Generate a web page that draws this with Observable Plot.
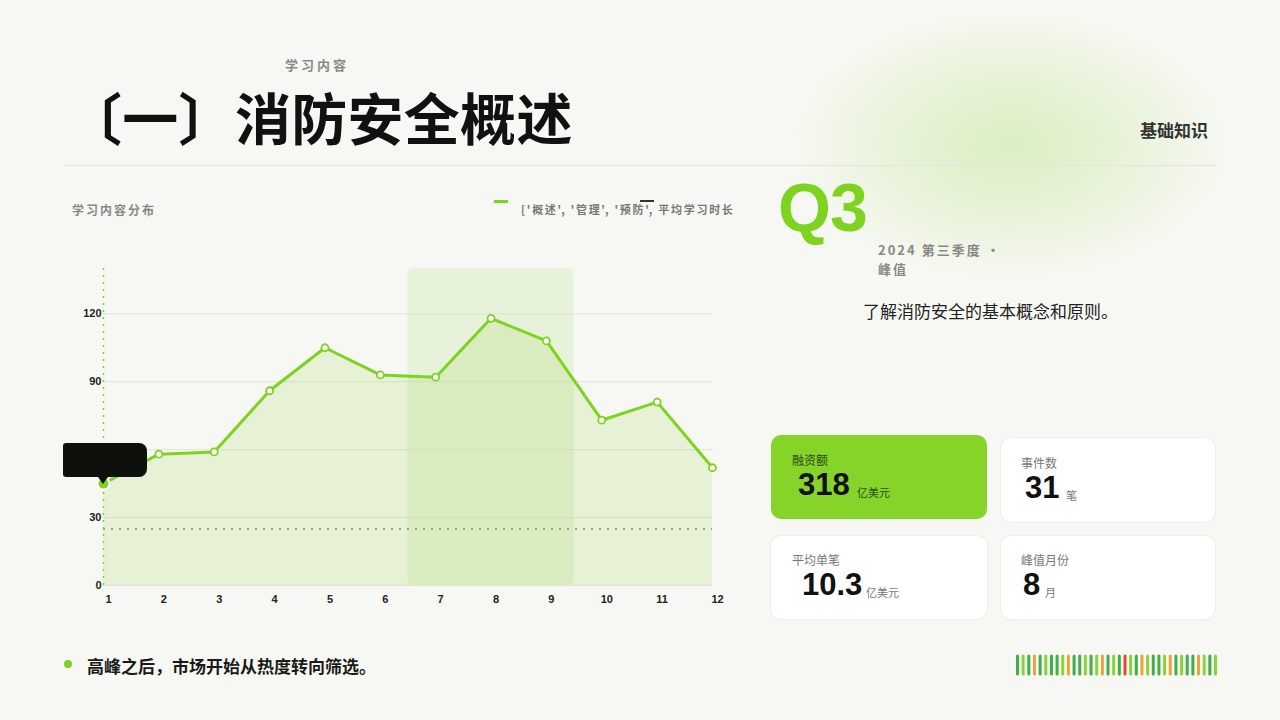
<!DOCTYPE html>
<html><head><meta charset="utf-8">
<script src="https://cdn.jsdelivr.net/npm/d3@7"></script>
<script src="https://cdn.jsdelivr.net/npm/@observablehq/plot@0.6"></script>
<style>
html,body{margin:0;padding:0}
body{width:1280px;height:720px;overflow:hidden;background:#f7f8f3;font-family:"Noto Sans CJK SC","Liberation Sans",sans-serif;position:relative;color:#1a1a1a}
.abs{position:absolute;white-space:nowrap}
.blob{position:absolute;left:790px;top:10px;width:440px;height:270px;border-radius:50%;background:radial-gradient(ellipse at center, rgba(150,215,80,0.30) 0%, rgba(170,222,110,0.18) 40%, rgba(247,248,243,0) 72%)}
.card{position:absolute;border-radius:10px;background:#fff;box-shadow:0 0 0 1px #eeefea}
.card .lab{position:absolute;left:21px;top:16px;font-size:12px;color:#777}
.card .val{position:absolute;font-family:"Liberation Sans",sans-serif;font-weight:bold;font-size:31px;color:#111}
.card .unit{position:absolute;font-size:11px;color:#777}
</style></head><body>
<div class="blob"></div>
<div class="abs" style="left:285px;top:55px;font-size:13px;font-weight:bold;color:#8a8a8a;letter-spacing:3px">学习内容</div>
<div class="abs" style="left:66px;top:78px;font-size:56px;font-weight:bold;line-height:76px;color:#111;letter-spacing:0.3px">〔一〕消防安全概述</div>
<div class="abs" style="left:1140px;top:117px;font-size:17px;font-weight:bold;color:#333">基础知识</div>
<div class="abs" style="left:64px;top:165px;width:1152px;height:1px;background:#e3e4df"></div>

<div class="abs" style="left:72px;top:201px;font-size:12px;font-weight:bold;color:#888;letter-spacing:2px">学习内容分布</div>
<div class="abs" style="left:494px;top:200px;width:14px;height:3px;background:#7ed321"></div>
<div class="abs" style="left:521px;top:201px;font-size:11px;font-weight:bold;color:#777;letter-spacing:1.7px">['概述', '管理', '预防', 平均学习时长</div>
<div class="abs" style="left:640px;top:200px;width:14px;height:2px;background:#333"></div>

<div id="chart" class="abs" style="left:64px;top:250px"></div>
<div class="abs" style="left:63px;top:443px;width:84px;height:34px;background:#0e100b;border-radius:3px 8px 8px 3px"></div>
<div class="abs" style="left:98px;top:477px;width:0;height:0;border-left:5px solid transparent;border-right:5px solid transparent;border-top:7px solid #0e100b"></div>

<div class="abs" style="left:778px;top:168px;font-family:'Liberation Sans',sans-serif;font-size:68px;font-weight:bold;color:#7ed321;letter-spacing:-1px">Q3</div>
<div class="abs" style="left:878px;top:240px;font-size:13px;font-weight:bold;color:#888;letter-spacing:2px;line-height:19px;white-space:normal;width:140px">2024 第三季度 · 峰值</div>
<div class="abs" style="left:863px;top:298px;font-size:17px;color:#222">了解消防安全的基本概念和原则。</div>

<div class="card" style="left:771px;top:435px;width:216px;height:84px;background:#86d42a;box-shadow:none">
  <div class="lab" style="top:16px;color:#2b4a12">融资额</div>
  <div class="val" style="left:27px;top:32px">318</div>
  <div class="unit" style="left:86px;top:49px;color:#2b4a12">亿美元</div>
</div>
<div class="card" style="left:1001px;top:438px;width:214px;height:84px">
  <div class="lab" style="left:20px;top:16px">事件数</div>
  <div class="val" style="left:24px;top:32px">31</div>
  <div class="unit" style="left:65px;top:49px">笔</div>
</div>
<div class="card" style="left:771px;top:536px;width:216px;height:83px">
  <div class="lab" style="top:15px">平均单笔</div>
  <div class="val" style="left:31px;top:31px">10.3</div>
  <div class="unit" style="left:95px;top:48px">亿美元</div>
</div>
<div class="card" style="left:1001px;top:536px;width:214px;height:83px">
  <div class="lab" style="left:20px;top:15px">峰值月份</div>
  <div class="val" style="left:22px;top:31px">8</div>
  <div class="unit" style="left:44px;top:48px">月</div>
</div>

<div class="abs" style="left:64px;top:660px;width:8px;height:8px;border-radius:50%;background:#7ed321"></div>
<div class="abs" style="left:87px;top:653px;font-size:17px;font-weight:bold;color:#1a1a1a">高峰之后，市场开始从热度转向筛选。</div>
<div id="bars" class="abs" style="left:1015px;top:654px"></div>

<script>
const months = [1,2,3,4,5,6,7,8,9,10,11,12];
const values = [45,58,59,86,105,93,92,118,108,73,81,52];
const yTicks = [0,30,60,90,120];
const yMax = 140;
const avgValue = 25;
const highlightMonths = [7,8,9];
const hoverMonth = 1;
const barPattern = ["D","L","D","O","D","L","D","D","L","O","D","D","L","D","L","O","D","L","D","R","L","D","O","L","D","D","L","O","D","L","D","D","O","L","D","L"];
const barKinds = ["D","L","O","R"];
const barColors = ["#3fae4b","#8bd334","#eaa23c","#e2473b"];

const green = "#7ed321";
const data = months.map((m,i)=>({month:m, value:values[i]}));
const hl = [{x1: d3.min(highlightMonths)-0.5, x2: d3.max(highlightMonths)+0.5}];

const chart = Plot.plot({
  width:680, height:370,
  marginLeft:39, marginRight:32, marginTop:18, marginBottom:35,
  x:{domain:[1,12], label:null},
  y:{domain:[0,yMax], label:null},
  style:{background:"transparent", fontFamily:"Liberation Sans, sans-serif", fontSize:"11px", fontWeight:"bold", color:"#333", overflow:"visible"},
  marks:[
    Plot.rect(hl,{x1:"x1", x2:"x2", y1:0, y2:yMax, fill:"#8fd14f", fillOpacity:0.16, rx:6}),
    Plot.ruleY(yTicks,{stroke:"#e1e2dc", strokeWidth:1}),
    Plot.areaY(data,{x:"month", y:"value", fill:"#8cd03c", fillOpacity:0.16}),
    Plot.ruleY([avgValue],{stroke:"#7f8c70", strokeDasharray:"2,6", strokeWidth:1.5}),
    Plot.ruleX([hoverMonth],{y1:0, y2:yMax, stroke:green, strokeDasharray:"2,5", strokeWidth:1.5}),
    Plot.line(data,{x:"month", y:"value", stroke:green, strokeWidth:3}),
    Plot.dot(data,{x:"month", y:"value", r:3.5, fill:"white", stroke:green, strokeWidth:1.8}),
    Plot.dot(data.filter(d=>d.month===hoverMonth),{x:"month", y:"value", r:6, fill:green, stroke:"white", strokeWidth:2}),
    Plot.axisX(months,{tickSize:0, tickPadding:10, dx:5, tickFormat:d=>String(d), fill:"#222", label:null}),
    Plot.axisY(yTicks,{tickSize:0, tickPadding:2, fill:"#222", label:null})
  ]
});
document.getElementById("chart").appendChild(chart);

const barData = barPattern.map((k,i)=>({i, k}));
const bars = Plot.plot({
  width:202, height:22, marginLeft:2, marginRight:2, marginTop:2, marginBottom:2,
  x:{domain:[0, barPattern.length-1], axis:null},
  y:{domain:[0,1], axis:null},
  color:{domain:barKinds, range:barColors},
  style:{background:"transparent"},
  marks:[
    Plot.ruleX(barData,{x:"i", y1:0, y2:1, stroke:"k", strokeWidth:3, strokeLinecap:"round"})
  ]
});
document.getElementById("bars").appendChild(bars);
</script>
</body></html>
